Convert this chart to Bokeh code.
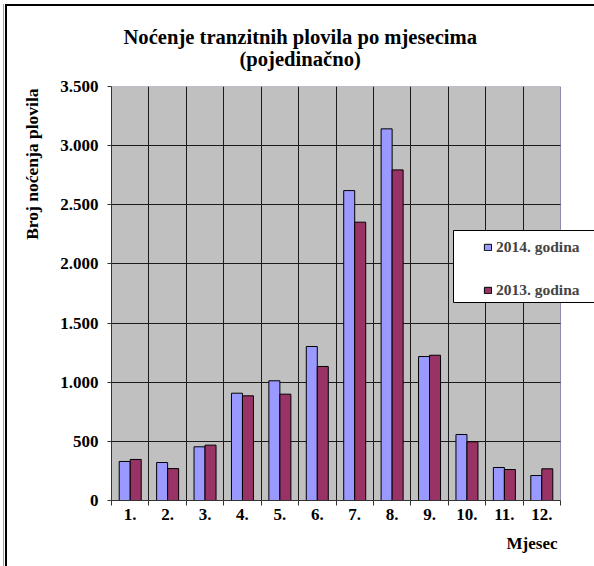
from bokeh.plotting import figure
from bokeh.models import (Range1d, FixedTicker, Legend, LegendItem, Title,
                          BoxAnnotation, ColumnDataSource)
from bokeh.embed import file_html
from bokeh.resources import INLINE
from bokeh.transform import dodge

# ---- data ----
months = [1, 2, 3, 4, 5, 6, 7, 8, 9, 10, 11, 12]
month_labels = ["1.", "2.", "3.", "4.", "5.", "6.", "7.", "8.", "9.", "10.", "11.", "12."]
nights_2014 = [330, 321, 454, 907, 1012, 1302, 2620, 3142, 1217, 558, 279, 211]
nights_2013 = [347, 270, 468, 885, 899, 1133, 2353, 2795, 1228, 496, 262, 268]
series_names = ["2014. godina", "2013. godina"]
y_ticks = [0, 500, 1000, 1500, 2000, 2500, 3000, 3500]
y_tick_labels = ["0", "500", "1.000", "1.500", "2.000", "2.500", "3.000", "3.500"]
title_line1 = "Noćenje tranzitnih plovila po mjesecima"
title_line2 = "(pojedinačno)"
y_title = "Broj noćenja plovila"
x_title = "Mjesec"

FONT = "Liberation Serif"
W, H = 594, 566
PLOT_L, PLOT_R, PLOT_T, PLOT_B = 111, 560, 86, 500

x0, x1 = months[0] - 0.5, months[-1] + 0.5
px_per_unit = (PLOT_R - PLOT_L) / (x1 - x0)
x_end = x1 + (W - PLOT_R) / px_per_unit   # frame extends to the canvas edge

src = ColumnDataSource(dict(m=months, a=nights_2014, b=nights_2013))

p = figure(width=W, height=H, output_backend="svg", toolbar_location=None,
           x_range=Range1d(x0, x_end), y_range=Range1d(y_ticks[0], y_ticks[-1]),
           min_border_left=PLOT_L, min_border_right=0, min_border_top=PLOT_T,
           min_border_bottom=H - PLOT_B)
p.background_fill_color = "white"
p.border_fill_color = None
p.outline_line_color = None
# outer chart frame (double line on the left, single line on top)
p.styles = {
    "background-color": "white",
    "box-shadow": ("inset 0 4px 0 0 white, inset 3px 0 0 0 white, "
                   "inset 4px 0 0 0 #a0a0a0, inset 5px 0 0 0 white, "
                   "inset 7px 0 0 0 black, inset 0 6px 0 0 black"),
}

# grey plot area
p.add_layout(BoxAnnotation(left=x0, right=x1, fill_color="#c0c0c0", fill_alpha=1,
                           line_color="#8c8cae", line_width=1, line_alpha=1,
                           level="image"))

r1 = p.vbar(x=dodge("m", -0.147), top="a", width=0.294, source=src,
            fill_color="#9999ff", line_color="black", line_width=1)
r2 = p.vbar(x=dodge("m", 0.147), top="b", width=0.294, source=src,
            fill_color="#993366", line_color="black", line_width=1)

# x axis: labels at centers, tick marks at category boundaries
bounds = [m - 0.5 for m in months] + [months[-1] + 0.5]
p.xaxis.ticker = FixedTicker(ticks=months, minor_ticks=bounds)
p.xaxis.bounds = (x0, x1)
p.xaxis.major_label_overrides = {float(m): l for m, l in zip(months, month_labels)}
p.xaxis.major_tick_line_color = None
p.xaxis.major_tick_out = 5
p.xaxis.major_tick_in = 0
p.xaxis.minor_tick_out = 5
p.xaxis.minor_tick_in = 0
p.xaxis.minor_tick_line_color = "#333333"
p.xaxis.axis_line_color = "#333333"
p.xaxis.major_label_standoff = 3
p.xaxis.major_label_text_font = FONT
p.xaxis.major_label_text_font_style = "bold"
p.xaxis.major_label_text_font_size = "17px"
p.xaxis.major_label_text_color = "black"

p.yaxis.ticker = FixedTicker(ticks=y_ticks)
p.yaxis.major_label_overrides = {float(t): l for t, l in zip(y_ticks, y_tick_labels)}
p.yaxis.major_tick_out = 4
p.yaxis.major_tick_in = 0
p.yaxis.minor_tick_line_color = None
p.yaxis.major_tick_line_color = "#333333"
p.yaxis.axis_line_color = "#333333"
p.yaxis.major_label_standoff = 9
p.yaxis.major_label_text_font = FONT
p.yaxis.major_label_text_font_style = "bold"
p.yaxis.major_label_text_font_size = "17px"
p.yaxis.major_label_text_color = "black"

p.xgrid.ticker = FixedTicker(ticks=bounds[1:-1])
p.xgrid.grid_line_color = "#1a1a1a"
p.ygrid.ticker = FixedTicker(ticks=y_ticks[:-1])
p.ygrid.grid_line_color = "#1a1a1a"
p.ygrid.cross_bounds = (x0, x1)

# titles (spacer closest to the frame, then line 2, then line 1 on top)
p.add_layout(Title(text=" ", text_font_size="1px", standoff=14), "above")
p.add_layout(Title(text=title_line2, align="left", offset=128, text_font=FONT,
                   text_font_style="bold", text_font_size="20.6px",
                   text_color="black", standoff=0),
             "above")
p.title.text = title_line1
p.title.align = "left"
p.title.offset = 12
p.title.text_font = FONT
p.title.text_font_style = "bold"
p.title.text_font_size = "20.6px"
p.title.text_color = "black"
p.title.standoff = -4

p.add_layout(Title(text=y_title, align="right", offset=2, text_font=FONT,
                   text_font_style="bold", text_font_size="17.5px",
                   text_color="black", standoff=32),
             "left")
p.add_layout(Title(text=x_title, align="right", offset=37, text_font=FONT,
                   text_font_style="bold", text_font_size="17px",
                   text_color="black", standoff=19),
             "below")

# legend box
p.add_layout(BoxAnnotation(left=453 - PLOT_L, right=W + 20 - PLOT_L,
                           bottom=PLOT_B - 302, top=PLOT_B - 230,
                           left_units="screen", right_units="screen",
                           bottom_units="screen", top_units="screen",
                           fill_color="white", fill_alpha=1,
                           line_color="black", line_width=1, line_alpha=1))
legend = Legend(items=[LegendItem(label=series_names[0], renderers=[r1]),
                       LegendItem(label=series_names[1], renderers=[r2])],
                location=(477 - PLOT_L, PLOT_B - 305), padding=6, spacing=25,
                glyph_width=9, glyph_height=8, label_height=18,
                label_standoff=4, background_fill_alpha=0,
                border_line_alpha=0, label_text_font=FONT,
                label_text_font_style="bold", label_text_font_size="15.5px")
p.add_layout(legend, "center")

open("out.html", "w").write(file_html(p, INLINE))
